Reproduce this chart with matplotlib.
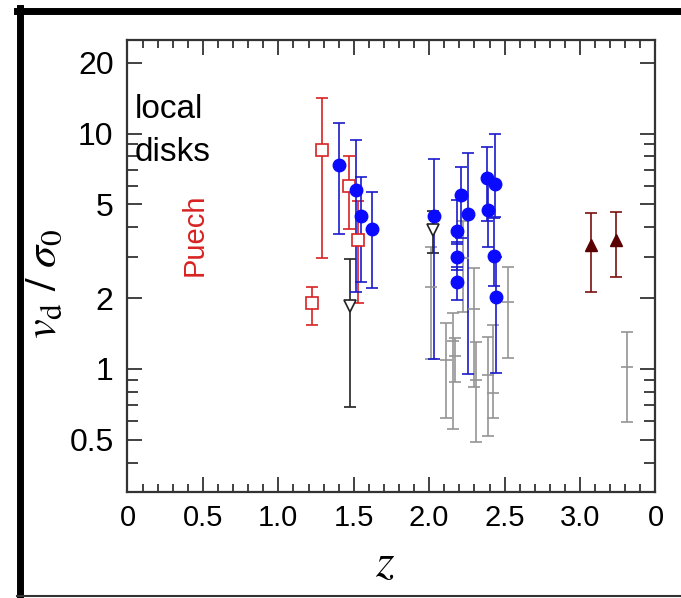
import numpy as np
import matplotlib
matplotlib.use("Agg")
import matplotlib.pyplot as plt
from matplotlib.lines import Line2D
from matplotlib.ticker import FixedLocator, NullFormatter

plt.rcParams['font.family'] = ['Liberation Sans', 'DejaVu Sans']
plt.rcParams['mathtext.fontset'] = 'stix'

# Puech et al. (red open squares)
puech_z = [1.225, 1.29, 1.467, 1.527]
puech_v = [1.90, 8.55, 6.00, 3.54]
puech_lo = [1.54, 2.96, 3.94, 1.91]
puech_hi = [2.23, 14.2, 8.06, 5.15]

# blue filled circles
blue_z = [1.405, 1.516, 1.551, 1.619, 2.034, 2.184, 2.184, 2.184, 2.21, 2.26,
          2.38, 2.39, 2.437, 2.43, 2.445]
blue_v = [7.38, 5.78, 4.45, 3.94, 4.45, 3.84, 3.00, 2.34, 5.46, 4.57,
          6.48, 4.75, 6.12, 3.03, 2.03]
blue_lo = [3.75, 2.12, 2.34, 2.20, 1.10, 3.38, 2.62, 1.97, 3.60, 0.95,
           4.24, 3.31, 4.42, 2.26, 0.96]
blue_hi = [11.1, 9.43, 6.54, 5.66, 7.83, 5.20, 3.45, 2.72, 7.22, 8.28,
           8.74, 6.20, 9.97, 4.40, 3.00]

# black open triangles
tri_z = [1.474, 2.027]
tri_v = [1.85, 3.88]
tri_lo = [0.69, 3.10]
tri_hi = [2.94, 4.67]

# grey bars (no marker)
grey_z = [2.01, 2.11, 2.155, 2.17, 2.225, 2.30, 2.31, 2.39, 2.42, 2.52, 3.31]
grey_v = [2.22, 1.09, 1.31, 1.13, 2.97, 1.80, 0.90, 0.94, 0.79, 1.92, 1.02]
grey_lo = [1.10, 0.617, 0.554, 0.88, 1.75, 0.84, 0.49, 0.52, 0.62, 1.11, 0.597]
grey_hi = [3.31, 1.56, 1.73, 1.35, 4.24, 2.68, 1.30, 1.36, 1.54, 2.71, 1.44]

# dark red filled triangles
dred_z = [3.07, 3.24]
dred_v = [3.37, 3.54]
dred_lo = [2.13, 2.46]
dred_hi = [4.60, 4.64]

x_ticks = [0, 0.5, 1.0, 1.5, 2.0, 2.5, 3.0, 3.5]
x_labels = ['0', '0.5', '1.0', '1.5', '2.0', '2.5', '3.0', '0']
y_ticks = [0.5, 1, 2, 5, 10, 20]
y_labels = ['0.5', '1', '2', '5', '10', '20']


def yerr(v, lo, hi):
    v = np.array(v)
    return [v - np.array(lo), np.array(hi) - v]


fig = plt.figure(figsize=(6.81, 5.98), dpi=100)
ax = fig.add_axes([0.1872, 0.1773, 0.7753, 0.7559])

ax.errorbar(grey_z, grey_v, yerr=yerr(grey_v, grey_lo, grey_hi), fmt='_',
            color='#959595', ms=9, mew=1.2, elinewidth=1.2, capsize=4, capthick=1.2)
ax.errorbar(puech_z, puech_v, yerr=yerr(puech_v, puech_lo, puech_hi), fmt='s',
            color='#d82222', mfc='white', mec='#d82222', ms=8, mew=1.2,
            elinewidth=1.2, capsize=4, capthick=1.2)
ax.errorbar(tri_z, tri_v, yerr=yerr(tri_v, tri_lo, tri_hi), fmt='v',
            color='#222222', mfc='white', mec='#222222', ms=8, mew=1.2,
            elinewidth=1.2, capsize=4, capthick=1.2)
ax.errorbar(blue_z, blue_v, yerr=yerr(blue_v, blue_lo, blue_hi), fmt='o',
            color='#1a1acc', mfc='#0a0aff', mec='#0a0aff', ms=9,
            elinewidth=1.2, capsize=4, capthick=1.2)
ax.errorbar(dred_z, dred_v, yerr=yerr(dred_v, dred_lo, dred_hi), fmt='^',
            color='#7a1010', mfc='#5a0000', mec='#5a0000', ms=9,
            elinewidth=1.2, capsize=4, capthick=1.2)

ax.set_yscale('log')
ax.set_xlim(0, 3.5)
ax.set_ylim(0.3, 25)

ax.set_xticks(x_ticks)
ax.set_xticklabels(x_labels)
ax.xaxis.set_minor_locator(FixedLocator(np.arange(0, 3.51, 0.1)))
ax.set_yticks(y_ticks)
ax.set_yticklabels(y_labels)
ax.yaxis.set_minor_locator(FixedLocator([0.3, 0.4, 0.6, 0.7, 0.8, 0.9, 3, 4, 6, 7, 8, 9]))
ax.yaxis.set_minor_formatter(NullFormatter())

ax.tick_params(which='both', direction='in', top=True, right=True, width=1.3,
               color='#333333')
ax.tick_params(axis='x', which='major', length=11, labelsize=21, pad=9)
ax.tick_params(axis='x', which='minor', length=6)
ax.tick_params(axis='y', which='major', length=11, labelsize=23, pad=10)
ax.tick_params(axis='y', which='minor', length=8)
for s in ax.spines.values():
    s.set_linewidth(1.6)
    s.set_color('#333333')

ax.set_xlabel('$z$', fontsize=34)
ax.xaxis.set_label_coords(0.488, -0.11)
ax.set_ylabel(r'$v_{\rm d}\ /\ \sigma_0$', fontsize=32)
ax.yaxis.set_label_coords(-0.118, 0.46)

ax.text(0.05, 12.6, 'local', fontsize=24, va='center', ha='left')
ax.text(0.05, 8.3, 'disks', fontsize=24, va='center', ha='left')
ax.text(0.446, 3.72, 'Puech', fontsize=21, color='#d82222', rotation=90,
        va='center', ha='center')

# thick frame around the figure
fig.add_artist(Line2D([20 / 681, 20 / 681], [0, 1 - 8 / 598], color='black', lw=5,
                      transform=fig.transFigure))
fig.add_artist(Line2D([17 / 681, 1], [1 - 11 / 598, 1 - 11 / 598], color='black', lw=5,
                      transform=fig.transFigure))
fig.add_artist(Line2D([17 / 681, 1], [2 / 598, 2 / 598], color='#333333', lw=1.5,
                      transform=fig.transFigure))

fig.savefig('out.png', dpi=100)
